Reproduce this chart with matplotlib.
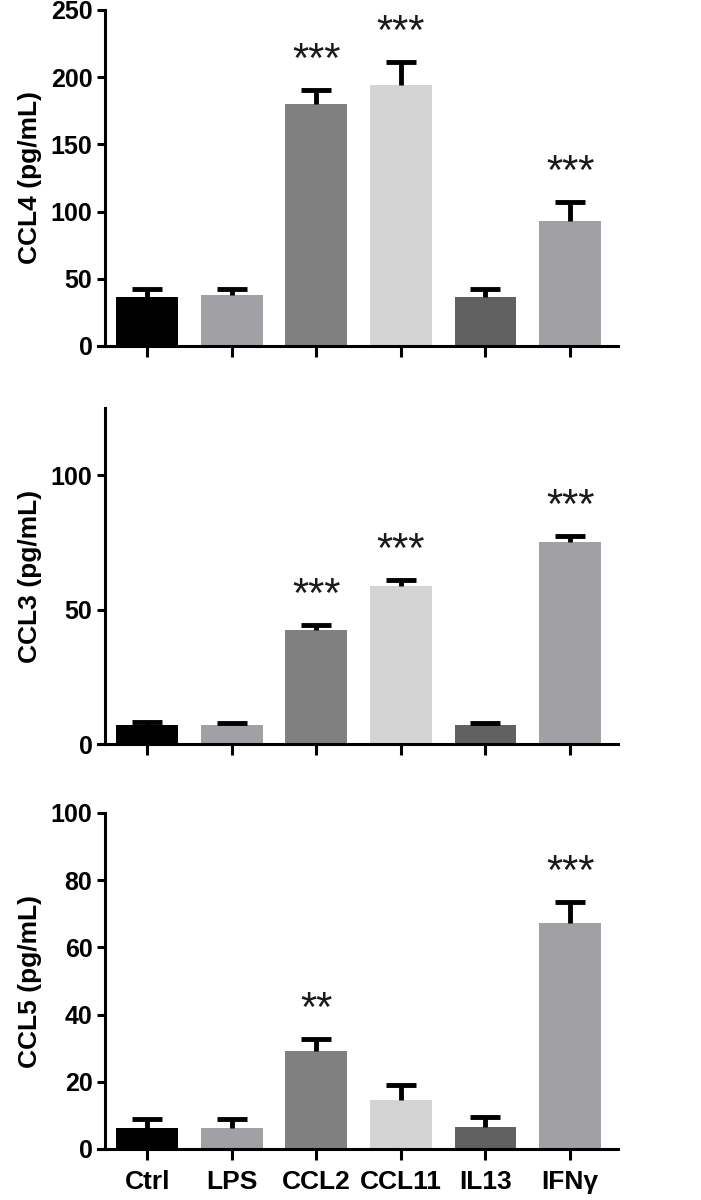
import numpy as np
import matplotlib
matplotlib.use("Agg")
import matplotlib.pyplot as plt

plt.rcParams["font.family"] = ["Liberation Sans", "DejaVu Sans"]

GROUPS = ["Ctrl", "LPS", "CCL2", "CCL11", "IL13", "IFN\u03b3"]
BAR_COLORS = ["#000000", "#a1a1a5", "#808080", "#d4d4d4", "#616161", "#a1a1a5"]

# CCL4 panel
CCL4_MEAN = [36.5, 37.7, 180.0, 194.5, 36.5, 92.8]
CCL4_SEM = [5.7, 4.5, 10.3, 16.7, 5.7, 14.2]
CCL4_STARS = ["", "", "***", "***", "", "***"]

# CCL3 panel
CCL3_MEAN = [7.1, 7.1, 42.4, 58.9, 7.1, 75.1]
CCL3_SEM = [1.2, 0.8, 1.8, 2.1, 0.8, 2.1]
CCL3_STARS = ["", "", "***", "***", "", "***"]

# CCL5 panel
CCL5_MEAN = [6.2, 6.2, 29.1, 14.5, 6.5, 67.3]
CCL5_SEM = [2.7, 2.6, 3.7, 4.5, 2.9, 6.3]
CCL5_STARS = ["", "", "**", "", "", "***"]

PANELS = [
    ("CCL4 (pg/mL)", CCL4_MEAN, CCL4_SEM, CCL4_STARS, 250, [0, 50, 100, 150, 200, 250]),
    ("CCL3 (pg/mL)", CCL3_MEAN, CCL3_SEM, CCL3_STARS, 125, [0, 50, 100]),
    ("CCL5 (pg/mL)", CCL5_MEAN, CCL5_SEM, CCL5_STARS, 100, [0, 20, 40, 60, 80, 100]),
]

fig = plt.figure(figsize=(7.01, 12.0), dpi=100)
bottoms = [0.7117, 0.38, 0.0425]

x = np.arange(len(GROUPS))
for (label, mean, sem, stars, ymax, ticks), bot in zip(PANELS, bottoms):
    mean = np.array(mean)
    top = mean + np.array(sem)
    ax = fig.add_axes([0.14, bot, 0.742, 0.28])
    ax.bar(x, mean, width=0.73, color=BAR_COLORS, zorder=2)
    # upper whisker only: stem from bar top, flat cap at mean + SEM
    ax.vlines(x, mean, top, colors="black", linewidth=3.5, zorder=3)
    ax.plot(x, top, linestyle="none", marker="_", markersize=22,
            markeredgewidth=3.5, color="black", zorder=3)
    for xi, t, st in zip(x, top, stars):
        if st:
            ax.annotate(st, (xi, t), xytext=(0, 13), textcoords="offset points",
                        ha="center", va="baseline", fontsize=30, color="#1a1a1a")
    ax.set_xlim(-0.58, 5.57)
    ax.set_ylim(0, ymax)
    ax.set_yticks(ticks)
    ax.set_xticks(x)
    ax.spines["top"].set_visible(False)
    ax.spines["right"].set_visible(False)
    ax.spines["left"].set_position(("data", -0.5))
    for side in ("left", "bottom"):
        ax.spines[side].set_linewidth(2.2)
    ax.tick_params(axis="y", width=2.2, length=6, labelsize=18, pad=3)
    ax.tick_params(axis="x", width=2.2, length=8, labelsize=19, pad=7)
    for t in ax.get_yticklabels():
        t.set_fontweight("bold")
    ax.set_ylabel(label, fontsize=19, fontweight="bold", labelpad=6)
    if bot == bottoms[-1]:
        ax.set_xticklabels(GROUPS, fontweight="bold")
    else:
        ax.set_xticklabels([])

fig.savefig("out.png", dpi=100)
